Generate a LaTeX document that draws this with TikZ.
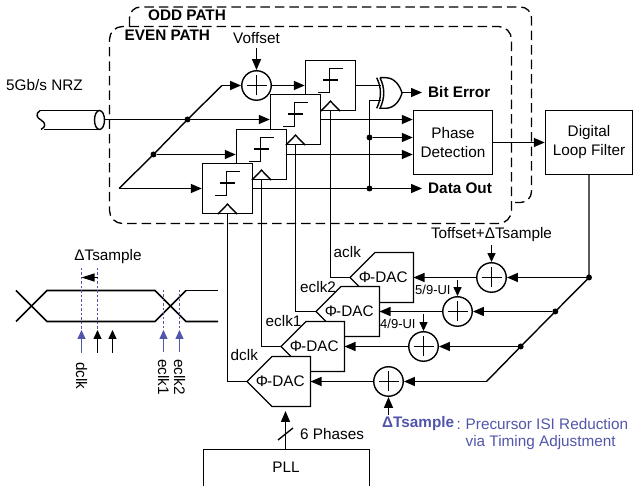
\documentclass[tikz,border=0pt]{standalone}
\usepackage{fontspec}
\setmainfont{Liberation Sans}
\usetikzlibrary{arrows.meta}
\definecolor{accent}{RGB}{82,86,170}
\tikzset{
  wire/.style={line width=1.4pt,line join=miter},
  sig/.style={wire,-{Triangle[length=11pt,width=9pt]}},
  smallsig/.style={wire,-{Triangle[length=9pt,width=8pt]}},
  cmpbox/.style={draw,fill=white,line width=1.4pt,minimum width=50pt,minimum height=50pt,inner sep=0pt},
  sumnode/.style={circle,draw,fill=white,line width=1.4pt,minimum size=29.5pt,inner sep=0pt},
  blockbox/.style={draw,fill=white,line width=1.4pt,inner sep=0pt,align=center},
  dot/.style={circle,fill=black,minimum size=6pt,inner sep=0pt},
  txt/.style={inner sep=0pt,font=\fontsize{15.3}{17}\selectfont},
  btxt/.style={txt,font=\fontsize{15.3}{17}\selectfont\bfseries},
  small/.style={inner sep=0pt,font=\fontsize{13}{15}\selectfont},
  pathline/.style={line width=1.3pt,dash pattern=on 9.5pt off 5pt},
  rail/.style={line width=1.7pt},
  probe/.style={accent,line width=1.3pt,dash pattern=on 2.5pt off 2pt},
  bluearrow/.style={accent,line width=1.3pt,-{Triangle[length=9pt,width=8pt]}},
  blackarrow/.style={line width=1.3pt,-{Triangle[length=9pt,width=8pt]}}
}
\begin{document}
\begin{tikzpicture}[x=1pt,y=-1pt]
\useasboundingbox (0,0) rectangle (633,486);
% dashed path outlines
\draw[pathline,rounded corners=11pt] (515,202.5) -- (531.5,202.5) -- (531.5,7) -- (129.5,7) -- (129.5,26.5);
\draw[pathline,rounded corners=13pt] (129.5,26.5) -- (511.5,26.5) -- (511.5,223.5) -- (109.5,223.5) -- (109.5,26.5) -- (129.5,26.5);
\node[btxt,anchor=west] (oddlabel) at (148,15) {ODD PATH};
\node[btxt,anchor=west] (evenlabel) at (124.5,35) {EVEN PATH};
% input
\node[txt,anchor=west] (nrz) at (6,85) {5Gb/s NRZ};
\draw[line width=1.4pt] (40,110.5) -- (99.5,110.5) (44,129.5) -- (99.5,129.5);
\draw[line width=1.4pt] (40,110.5) .. controls (35,114) and (37,118) .. (41,120) .. controls (46,123) and (46,127) .. (41,129.5);
\draw[line width=1.4pt] (99.5,120) ellipse (5pt and 9.5pt);
\coordinate (cable) at (104.5,119.5);
% comparators
\node[cmpbox] (ca) at (330.5,85.5) {};
\node[cmpbox] (cb) at (295.5,119.5) {};
\node[cmpbox] (cc) at (261.5,154.5) {};
\node[cmpbox] (cd) at (227.5,188.5) {};
\foreach \n in {ca,cb,cc,cd}{
  \draw[line width=1.4pt] ([shift={(-12.7,7.3)}]\n.center) -- ([shift={(-1,7.3)}]\n.center) -- ([shift={(-1,-16.7)}]\n.center) -- ([shift={(12.3,-16.7)}]\n.center);
  \draw[line width=1.4pt] ([shift={(-7.7,-5.3)}]\n.center) -- ([shift={(7.7,-5.3)}]\n.center);
  \draw[line width=1.4pt] ([xshift=-9.7pt]\n.south) -- ([yshift=10pt]\n.south) -- ([xshift=9.7pt]\n.south);
}
% sum at input
\node[sumnode] (sv) at (256.5,85.5) {};
\node[txt] (voff) at (256.5,38) {Voffset};
\coordinate (top) at (222,85.5);
\coordinate (root) at (119,188.5);
\node[dot] (j1) at (187.5,119.5) {};
\node[dot] (j2) at (153.5,154.5) {};
\draw[wire] (root) -- (j2.center) -- (j1.center) -- (top);
\draw[sig] (top) -- (sv);
\draw[sig] (256.5,48) -- (sv);
\draw[sig] (sv) -- (ca);
\draw[sig] (cable) -- (cb);
\draw[sig] (j2) -- (cc);
\draw[sig] (root) -- (cd);
% XOR
\draw[line width=1.4pt,fill=white] (380,77.7) -- (386,77.7) .. controls (395,78) and (400,86) .. (402,93) .. controls (400,100) and (395,108) .. (386,108.3) -- (380,108.3) .. controls (385,98) and (385,88) .. (380,77.7);
\draw[line width=1.4pt] (376.7,77.7) .. controls (381.7,88) and (381.7,98) .. (376.7,108.3);
\coordinate (xa) at (380.5,85.5);
\coordinate (xb) at (380.5,100.5);
\coordinate (xo) at (402,92.5);
\draw[wire] (ca) -- (xa);
% blocks
\node[blockbox,txt,draw,minimum width=79pt,minimum height=64pt] (pd) at (453,142.5) {Phase\\[2pt]Detection};
\node[blockbox,txt,draw,minimum width=87pt,minimum height=64pt] (dlf) at (589,142.5) {Digital\\[2pt]Loop Filter};
\node[btxt,anchor=west] (biterr) at (428,92) {Bit Error};
\node[btxt,anchor=west] (dataout) at (428,188) {Data Out};
\draw[sig,shorten >=6pt] (xo) -- (biterr.west |- xo);
\node[dot] (j3) at (369.5,137.5) {};
\node[dot] (j4) at (369.5,188.5) {};
\draw[wire] (xb) -| (j3.center) -- (j4.center);
\draw[sig] (cb) -- (pd.west |- cb);
\draw[sig] (j3) -- (pd.west |- j3);
\draw[sig] (cc) -- (pd.west |- cc);
\draw[sig,shorten >=6pt] (cd) -- (dataout.west |- cd);
\draw[sig] (pd) -- (dlf);
% DACs, back to front
\foreach \n/\x/\y in {a/350/277.5,b/316/311.5,c/281/346.5,d/247/381.5}{
  \draw[line width=1.4pt,fill=white] (\x,\y) -- ++(25,-25) -- ++(38.5,0) -- ++(0,50) -- ++(-38.5,0) -- cycle;
  \node[txt] (dac\n) at (\x+33.3,\y) {Φ\kern-1pt-DAC};
  \coordinate (dac\n tip) at (\x,\y);
  \coordinate (dac\n in) at (\x+63.5,\y);
}
% sampling clocks
\draw[wire] (ca.south) |- (dacatip);
\draw[wire] (cb.south) |- (dacbtip);
\draw[wire] (cc.south) |- (dacctip);
\draw[wire] (cd.south) |- (dacdtip);
\node[txt,anchor=west] (laclk) at (333.5,252) {aclk};
\node[txt,anchor=west] (leclkb) at (300,287) {eclk2};
\node[txt,anchor=west] (leclka) at (265.5,321) {eclk1};
\node[txt,anchor=west] (ldclk) at (230.5,355) {dclk};
% adders
\node[sumnode] (sa) at (491.5,277.5) {};
\node[sumnode] (sb) at (457.5,311.5) {};
\node[sumnode] (sc) at (423.5,346.5) {};
\node[sumnode] (sd) at (388.5,381.5) {};
\foreach \n in {sv,sa,sb,sc,sd}{
  \draw[line width=1.4pt] ([xshift=-10pt]\n.center) -- ([xshift=10pt]\n.center);
  \draw[line width=1.4pt] ([yshift=-10pt]\n.center) -- ([yshift=10pt]\n.center);
}
\node[dot] (ka) at (589,277.5) {};
\node[dot] (kb) at (555.3,311.5) {};
\node[dot] (kc) at (520.7,346.5) {};
\coordinate (kd) at (486.5,381.5);
\draw[wire] (dlf.south) -- (ka.center) -- (kb.center) -- (kc.center) -- (kd);
\draw[sig] (ka) -- (sa);
\draw[sig] (kb) -- (sb);
\draw[sig] (kc) -- (sc);
\draw[sig] (kd) -- (sd);
\draw[sig] (sa) -- (dacain);
\draw[sig] (sb) -- (dacbin);
\draw[sig] (sc) -- (daccin);
\draw[sig] (sd) -- (dacdin);
\node[txt] (toff) at (491.5,235) {Toffset+ΔTsample};
\node[small,anchor=west] (ufive) at (415,289.5) {5/9-UI};
\node[small,anchor=west] (ufour) at (380,323.5) {4/9-UI};
\coordinate (ia) at (491.5,245);
\coordinate (ib) at (457.5,280);
\coordinate (ic) at (423.5,314);
\coordinate (id) at (388.5,415);
\draw[smallsig] (ia) -- (sa);
\draw[smallsig] (ib) -- (sb);
\draw[smallsig] (ic) -- (sc);
\draw[sig] (id) -- (sd);
\node[btxt,anchor=west,accent] (dts) at (382,424) {ΔTsample};
\node[txt,anchor=west,accent] (colon) at (456.5,425) {:};
\node[txt,anchor=west,accent] (prec) at (465.5,424.5) {Precursor ISI Reduction};
\node[txt,anchor=west,accent] (via) at (465.5,443) {via Timing Adjustment};
% PLL
\draw[line width=1.4pt] (203.5,490) |- (369.5,449.5) -- (369.5,490);
\node[txt] (pll) at (286,467) {PLL};
\coordinate (plltop) at (285.5,449.5);
\coordinate (pllend) at (285.5,411);
\draw[sig] (plltop) -- (pllend);
\draw[line width=1.4pt] (278,440) -- (293,428);
\node[txt,anchor=west] (phases) at (300,434) {6 Phases};
% eye diagram
\draw[rail] (16,290.5) -- (47,321.5) -- (155,321.5) -- (186,290.5);
\draw[rail] (16,321.5) -- (47,290.5) -- (155,290.5) -- (186,321.5) -- (218,321.5);
\draw[line width=1.2pt] (186,290.5) -- (218,290.5);
\node[txt] (dtlabel) at (108,257) {ΔTsample};
\coordinate (pdt) at (81.5,268);
\coordinate (pdb) at (81.5,330);
\coordinate (pnt) at (97.5,268);
\coordinate (pnb) at (97.5,330);
\coordinate (pet) at (163.5,290);
\coordinate (peb) at (163.5,330);
\coordinate (pft) at (179.5,290);
\coordinate (pfb) at (179.5,330);
\draw[probe] (pdt) -- (pdb);
\draw[probe] (pnt) -- (pnb);
\draw[probe] (pet) -- (peb);
\draw[probe] (pft) -- (pfb);
\draw[-{Triangle[length=13pt,width=8pt]},line width=1.3pt] (pnt |- 0,277.5) -- (pdt |- 0,277.5);
\draw[bluearrow] (81.5,353) -- (pdb);
\draw[blackarrow] (97.5,353) -- (pnb);
\draw[blackarrow] (112.5,353) -- (112.5,330);
\draw[bluearrow] (163.5,352) -- (peb);
\draw[bluearrow] (179.5,352) -- (pfb);
\node[txt,anchor=west,rotate=-90] (wd) at (81.5,362) {dclk};
\node[txt,anchor=west,rotate=-90] (we) at (163.5,359) {eclk1};
\node[txt,anchor=west,rotate=-90] (wf) at (179.5,359) {eclk2};
\end{tikzpicture}
\end{document}
